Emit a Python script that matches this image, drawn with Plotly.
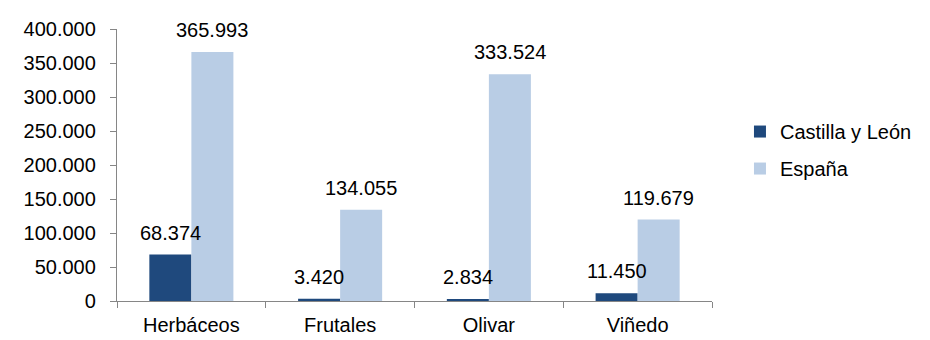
import plotly.graph_objects as go

categories = ["Herbáceos", "Frutales", "Olivar", "Viñedo"]
castilla = [68374, 3420, 2834, 11450]
espana = [365993, 134055, 333524, 119679]
series_names = ["Castilla y León", "España"]
y_tickvals = [0, 50000, 100000, 150000, 200000, 250000, 300000, 350000, 400000]
y_ticktext = ["0", "50.000", "100.000", "150.000", "200.000", "250.000", "300.000", "350.000", "400.000"]

FONT = "Liberation Sans, Arial, sans-serif"
FS = 20
dark = "#1F497D"
light = "#B9CDE5"

def fmt(v):
    return f"{v:,}".replace(",", ".")

fig = go.Figure()
fig.add_trace(go.Bar(x=categories, y=castilla, name=series_names[0], marker_color=dark,
                     marker_line_width=0, legendgroup="a"))
fig.add_trace(go.Bar(x=categories, y=espana, name=series_names[1], marker_color=light,
                     marker_line_width=0, legendgroup="b"))

annotations = []
for vals, shift in ((castilla, -21), (espana, 21)):
    for c, v in zip(categories, vals):
        annotations.append(dict(x=c, y=v, xref="x", yref="y", text=fmt(v), showarrow=False,
                                xshift=shift, yshift=22, yanchor="middle",
                                font=dict(family=FONT, size=FS, color="#000000")))

fig.update_layout(
    width=930, height=340,
    margin=dict(l=109, r=226, t=21, b=47),
    paper_bgcolor="white", plot_bgcolor="white",
    barmode="group", bargap=0.435, bargroupgap=0,
    font=dict(family=FONT, size=FS, color="#000000"),
    annotations=annotations,
    legend=dict(x=1.047, y=0.555, xanchor="left", yanchor="middle",
                font=dict(family=FONT, size=FS, color="#000000"),
                tracegroupgap=8, itemwidth=30, traceorder="grouped"),
    xaxis=dict(showline=True, linecolor="#868686", linewidth=1.3, ticks="outside",
               tickson="boundaries", ticklen=6, tickcolor="#868686", showgrid=False,
               automargin=False, ticklabelstandoff=6,
               tickfont=dict(family=FONT, size=FS, color="#000000")),
    yaxis=dict(range=[0, 400000], tickvals=y_tickvals, ticktext=y_ticktext,
               showline=True, linecolor="#868686", linewidth=1.3, ticks="outside",
               ticklen=6, tickcolor="#868686", showgrid=False, zeroline=False,
               ticklabelstandoff=10, automargin=False,
               tickfont=dict(family=FONT, size=FS, color="#000000")),
)
fig.update_traces(cliponaxis=False)

fig.write_html("out.html")
